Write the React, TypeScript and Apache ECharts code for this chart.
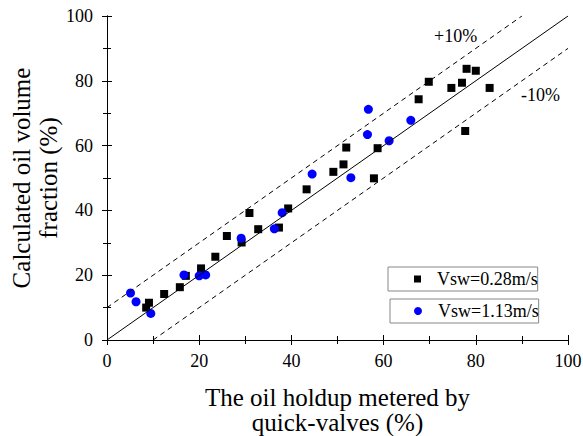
import React, { useEffect, useRef } from "react";
import * as echarts from "echarts";

const xTicks = [0, 20, 40, 60, 80, 100];
const yTicks = [0, 20, 40, 60, 80, 100];

const lowSpeed: [number, number][] = [
  [8.5, 10.0], [9.1, 11.5], [12.4, 14.2], [15.8, 16.3], [17.1, 19.8],
  [20.4, 22.1], [23.5, 25.7], [26.0, 32.1], [29.2, 30.1], [30.9, 39.2],
  [32.8, 34.2], [37.3, 34.7], [39.3, 40.6], [43.3, 46.5], [49.1, 51.9],
  [51.3, 54.2], [51.9, 59.4], [57.9, 49.9], [58.7, 59.2], [67.6, 74.3],
  [69.8, 79.7], [74.7, 77.8], [77.0, 79.4], [78.0, 83.7], [80.0, 83.1],
  [83.0, 77.8], [77.7, 64.5],
];

const highSpeed: [number, number][] = [
  [5.1, 14.5], [6.3, 11.8], [9.5, 8.2], [16.7, 20.1], [20.0, 19.8],
  [21.4, 20.1], [29.1, 31.4], [36.3, 34.3], [38.0, 39.3], [44.5, 51.2],
  [52.9, 50.1], [56.7, 71.2], [56.5, 63.4], [61.2, 61.5], [65.9, 67.8],
];

const parityLine: [number, number][] = [[0, 0], [100, 100]];
const plusLine: [number, number][] = [[0, 10], [90, 100]];
const minusLine: [number, number][] = [[10, 0], [100, 90]];

const FONT = "Liberation Serif";

export default function App() {
  const ref = useRef<HTMLDivElement>(null);
  useEffect(() => {
    document.body.style.margin = "0";
    const chart = echarts.init(ref.current!, null, { renderer: "svg" });
    const axisCommon = {
      type: "value",
      min: 0,
      max: 100,
      interval: 20,
      axisLine: { show: true, lineStyle: { color: "#000", width: 1 } },
      axisTick: { show: true, inside: false, length: 5, lineStyle: { color: "#000" } },
      minorTick: { show: true, splitNumber: 2, length: 4, lineStyle: { color: "#000" } },
      splitLine: { show: false },
    };
    const tickLabel = (list: number[], margin: number) => ({
      show: true,
      color: "#000",
      fontSize: 18,
      fontFamily: FONT,
      fontWeight: "normal",
      margin,
      formatter: (v: number) => (list.includes(v) ? "{t|" + v + "}" : ""),
      rich: { t: { fontFamily: FONT, fontSize: 18, color: "#000" } },
    });
    const dashed = { color: "#000", width: 1, type: [5, 4] as any };
    chart.setOption({
      animation: false,
      backgroundColor: "#fff",
      textStyle: { fontFamily: FONT },
      grid: { left: 107, right: 15, top: 16, bottom: 96, outerBoundsMode: "none", containLabel: false },
      xAxis: [
        {
          ...axisCommon,
          position: "bottom",
          axisLabel: tickLabel(xTicks, 12),
          name: "The oil holdup metered by\nquick-valves (%)",
          nameLocation: "middle",
          nameGap: 45,
          nameMoveOverlap: false,
          nameTextStyle: { color: "#000", fontSize: 25, fontFamily: FONT, lineHeight: 25 },
        },
        { ...axisCommon, position: "top", axisLabel: { show: false } },
      ],
      yAxis: [
        {
          ...axisCommon,
          position: "left",
          axisLabel: tickLabel(yTicks, 14),
          name: "Calculated oil volume\nfraction (%)",
          nameLocation: "middle",
          nameRotate: 90,
          nameGap: 45,
          nameMoveOverlap: false,
          nameTextStyle: { color: "#000", fontSize: 25, fontFamily: FONT, lineHeight: 27 },
        },
        { ...axisCommon, position: "right", axisLabel: { show: false } },
      ],
      legend: [
        {
          data: ["Vsw=0.28m/s"],
          left: 388,
          top: 267,
          orient: "horizontal",
          padding: [3, 0, 3, 26],
          borderColor: "#888",
          borderWidth: 1,
          itemWidth: 7,
          itemHeight: 7,
          icon: "rect",
          textStyle: { color: "#000", fontSize: 18, fontFamily: FONT, padding: [0, 0, 0, 11] },
        },
        {
          data: ["Vsw=1.13m/s"],
          left: 390,
          top: 299,
          orient: "horizontal",
          padding: [3, 0, 3, 24],
          borderColor: "#888",
          borderWidth: 1,
          itemWidth: 8,
          itemHeight: 8,
          icon: "circle",
          textStyle: { color: "#000", fontSize: 18, fontFamily: FONT, padding: [0, 0, 0, 11] },
        },
      ],
      series: [
        {
          name: "parity",
          type: "line",
          data: parityLine,
          symbol: "none",
          lineStyle: { color: "#000", width: 1 },
          silent: true,
        },
        {
          name: "+10%",
          type: "line",
          data: plusLine,
          symbol: "none",
          lineStyle: dashed,
          silent: true,
        },
        {
          name: "-10%",
          type: "line",
          data: minusLine,
          symbol: "none",
          lineStyle: dashed,
          silent: true,
        },
        {
          name: "Vsw=0.28m/s",
          type: "scatter",
          data: lowSpeed,
          symbol: "rect",
          symbolSize: 8,
          itemStyle: { color: "#000", opacity: 1 },
        },
        {
          name: "Vsw=1.13m/s",
          type: "scatter",
          data: highSpeed,
          symbol: "circle",
          symbolSize: 9,
          itemStyle: { color: "#0000ff", opacity: 1 },
        },
      ],
      graphic: [
        {
          type: "text",
          left: 434,
          top: 27,
          style: { text: "+10%", fill: "#000", fontSize: 18, fontFamily: FONT },
        },
        {
          type: "text",
          left: 521,
          top: 86,
          style: { text: "-10%", fill: "#000", fontSize: 18, fontFamily: FONT },
        },
      ],
    });
    return () => chart.dispose();
  }, []);
  return <div ref={ref} style={{ width: 583, height: 436 }} />;
}
